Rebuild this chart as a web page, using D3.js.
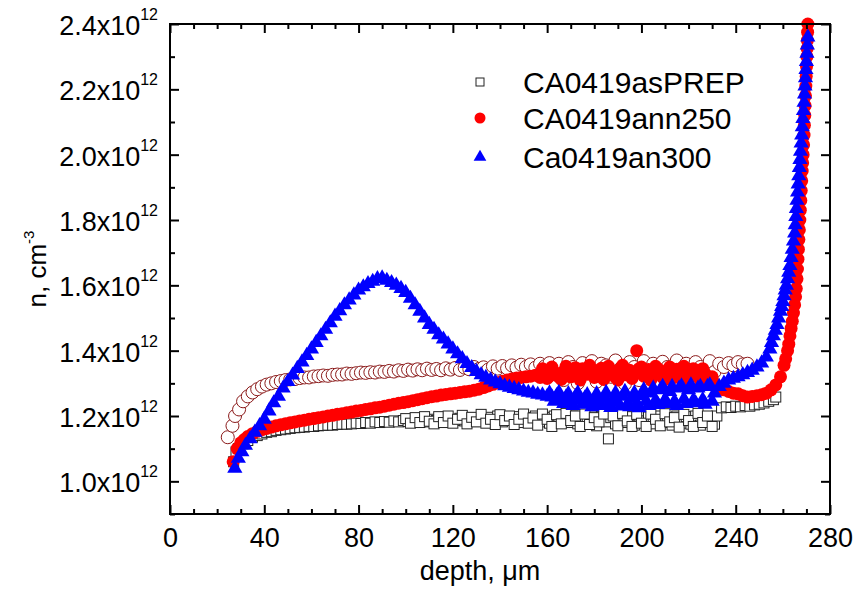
<!DOCTYPE html>
<html>
<head>
<meta charset="utf-8">
<script src="https://cdn.jsdelivr.net/npm/d3@7"></script>
<style>
body { margin: 0; background: white; }
text { font-family: Arial, "Liberation Sans", sans-serif; fill: black; }
</style>
</head>
<body>
<script>
// depth (um), n (x10^12 cm^-3)
var prepData = [[27,1.06],[28,1.09],[29,1.10],[31,1.115],[33,1.125],[35,1.135],[37,1.14],[39,1.145],[41,1.15],[43,1.152],[45,1.156],[47,1.158],[49,1.16],[51,1.162],[53,1.164],[55,1.165],[57,1.166],[59,1.168],[61,1.168],[63,1.17],[65,1.171],[67,1.172],[69,1.172],[71,1.174],[73,1.175],[75,1.175],[77,1.176],[79,1.178],[81,1.177],[83,1.18],[85,1.178],[87,1.182],[89,1.18],[91,1.183],[93,1.181],[95,1.185],[97,1.182],[99,1.186],[101,1.183],[103,1.188],[105,1.184],[107,1.19],[109,1.182],[111,1.19],[113,1.186],[115,1.192],[117,1.184],[119,1.19],[121,1.186],[123,1.193],[125,1.185],[127,1.195],[129,1.183],[131,1.19],[133,1.187],[135,1.196],[137,1.184],[139,1.2],[141,1.182],[143,1.192],[145,1.186],[147,1.198],[149,1.18],[151,1.195],[153,1.188],[155,1.2],[157,1.182],[159,1.196],[161,1.178],[163,1.2],[165,1.185],[167,1.195],[169,1.18],[171,1.2],[173,1.176],[175,1.196],[177,1.184],[179,1.2],[181,1.17],[183,1.198],[185,1.182],[186,1.13],[187,1.195],[189,1.176],[191,1.2],[193,1.18],[195,1.198],[197,1.172],[199,1.2],[201,1.185],[203,1.197],[205,1.176],[207,1.2],[209,1.18],[211,1.195],[213,1.172],[215,1.2],[217,1.178],[219,1.198],[221,1.175],[223,1.2],[225,1.172],[227,1.196],[229,1.182],[231,1.175],[232,1.2],[234,1.225],[236,1.228],[238,1.226],[240,1.23],[242,1.228],[244,1.232],[246,1.23],[248,1.234],[250,1.236],[252,1.24],[254,1.245],[256,1.25],[257,1.258],
  [100,1.192],[102,1.178],[104,1.195],[106,1.18],[108,1.198],[110,1.184],[112,1.176],[114,1.198],[116,1.18],[118,1.2],[120,1.178],[122,1.19],[124,1.202],[126,1.176],[128,1.196],[130,1.182],[132,1.205],[134,1.178],[136,1.19],[138,1.174],[140,1.204],[142,1.186],[144,1.2],[146,1.174],[148,1.19],[150,1.206],[152,1.178],[154,1.194],[156,1.172],[158,1.206],[160,1.19],[162,1.168],[164,1.204],[166,1.176],[168,1.208],[170,1.186],[172,1.2],[174,1.168],[176,1.206],[178,1.174],[180,1.195],[182,1.182],[184,1.206],[188,1.2],[190,1.17],[192,1.208],[194,1.185],[196,1.168],[198,1.205],[200,1.178],[202,1.168],[204,1.206],[206,1.19],[208,1.17],[210,1.207],[212,1.182],[214,1.195],[216,1.166],[218,1.205],[220,1.186],[222,1.168],[224,1.208],[226,1.18],[228,1.2],[230,1.168]];

var refData = [[24.5,1.135],[26.5,1.17],[27.6,1.2],[29.3,1.22],[31,1.245],[33,1.26],[35,1.272],[37,1.282],[39,1.29],[41,1.296],[43,1.3],[45,1.304],[47,1.307],[49,1.31],[51,1.312],[53,1.313],[55,1.316],[57,1.318],[59,1.318],[61,1.321],[63,1.322],[65,1.324],[67,1.323],[69,1.326],[71,1.327],[73,1.327],[75,1.33],[77,1.329],[79,1.331],[81,1.333],[83,1.332],[85,1.334],[87,1.333],[89,1.336],[91,1.335],[93,1.338],[95,1.336],[97,1.34],[99,1.338],[101,1.342],[103,1.339],[105,1.343],[107,1.34],[109,1.345],[111,1.341],[113,1.344],[115,1.34],[117,1.346],[119,1.342],[121,1.347],[123,1.341],[125,1.348],[127,1.343],[129,1.35],[131,1.344],[133,1.349],[135,1.342],[137,1.352],[139,1.345],[141,1.353],[143,1.346],[145,1.355],[147,1.348],[149,1.357],[151,1.35],[153,1.358],[155,1.348],[157,1.36],[159,1.352],[161,1.362],[163,1.33],[165,1.36],[167,1.31],[169,1.365],[171,1.35],[173,1.3],[175,1.362],[177,1.34],[179,1.368],[181,1.305],[183,1.36],[185,1.355],[187,1.32],[189,1.37],[191,1.345],[193,1.298],[195,1.365],[197,1.35],[199,1.31],[201,1.368],[203,1.34],[205,1.36],[207,1.3],[209,1.366],[211,1.35],[213,1.32],[215,1.37],[217,1.345],[219,1.36],[221,1.31],[223,1.365],[225,1.35],[227,1.3],[229,1.368],[231,1.335],[233,1.36],[235,1.35],[237,1.362],[239,1.355],[241,1.365],[243,1.358],[245,1.36]];

var ann250Data = [[26.8,1.06],[28.5,1.1],[30,1.118],[31.5,1.128],[33,1.137],[35,1.146],[37,1.153],[39,1.158],[41,1.162],[43,1.166],[45,1.17],[47,1.173],[49,1.176],[51,1.179],[53,1.182],[55,1.185],[57,1.187],[59,1.19],[61,1.192],[63,1.195],[65,1.197],[67,1.2],[69,1.202],[71,1.205],[73,1.207],[75,1.21],[77,1.212],[79,1.215],[81,1.217],[83,1.22],[85,1.222],[87,1.225],[89,1.227],[91,1.23],[93,1.233],[95,1.236],[97,1.239],[99,1.241],[101,1.244],[103,1.247],[105,1.25],[107,1.253],[109,1.256],[111,1.259],[113,1.261],[115,1.264],[117,1.266],[119,1.268],[121,1.27],[123,1.272],[125,1.274],[127,1.276],[129,1.279],[131,1.282],[133,1.287],[135,1.292],[137,1.297],[139,1.302],[141,1.306],[143,1.31],[145,1.313],[147,1.316],[149,1.318],[151,1.32],[153,1.322],[155,1.325],[157,1.318],[159,1.33],[161,1.322],[163,1.334],[165,1.32],[167,1.336],[169,1.326],[171,1.34],[173,1.322],[175,1.345],[177,1.328],[179,1.34],[181,1.322],[183,1.346],[185,1.33],[187,1.338],[189,1.318],[191,1.344],[193,1.326],[195,1.34],[197,1.33],[198,1.4],[199,1.345],[201,1.322],[203,1.342],[205,1.325],[207,1.345],[209,1.318],[211,1.34],[213,1.33],[215,1.343],[217,1.315],[219,1.338],[221,1.322],[223,1.336],[225,1.31],[227,1.33],[229,1.315],[231,1.3],[233,1.288],[235,1.28],[237,1.275],[239,1.27],[241,1.268],[243,1.262],[245,1.258],[247,1.26],[249,1.262],[251,1.265],[253,1.27],[255,1.28],[257,1.295],[259,1.32],[260.5,1.355],[262,1.4],[263,1.445],[264,1.49],[265,1.54],[265.7,1.59],[266.2,1.65],[266.6,1.71],[267,1.77],[267.4,1.83],[267.8,1.89],[268.2,1.95],[268.6,2.0],[269,2.06],[269.3,2.12],[269.6,2.18],[269.9,2.24],[270.2,2.3],[270.4,2.35],[270.6,2.4],
  [158,1.345],[160,1.315],[162,1.35],[164,1.33],[166,1.312],[168,1.352],[170,1.32],[172,1.348],[174,1.31],[176,1.336],[178,1.355],[180,1.318],[182,1.34],[184,1.312],[186,1.352],[188,1.33],[190,1.31],[192,1.355],[194,1.338],[196,1.315],[200,1.35],[202,1.33],[204,1.31],[206,1.352],[208,1.335],[210,1.312],[212,1.35],[214,1.318],[216,1.34],[218,1.352],[220,1.31],[222,1.345],[224,1.325],[226,1.345],[228,1.3],[230,1.32],
  [261.2,1.375],[262.5,1.42],[263.5,1.468],[264.5,1.515],[265.4,1.565],[266,1.62],[266.4,1.68],[266.8,1.74],[267.2,1.8],[267.6,1.86],[268,1.92],[268.4,1.975],[268.8,2.03],[269.15,2.09],[269.45,2.15],[269.75,2.21],[270.05,2.27],[270.3,2.325],[270.5,2.375]];

var an300Data = [[27.5,1.04],[29,1.07],[30.5,1.09],[32,1.11],[34,1.13],[36,1.15],[38,1.17],[40,1.19],[42,1.215],[44,1.24],[46,1.26],[48,1.285],[50,1.305],[52,1.325],[54,1.345],[56,1.365],[58,1.385],[60,1.405],[62,1.425],[64,1.445],[66,1.465],[68,1.485],[70,1.505],[72,1.522],[74,1.54],[76,1.555],[78,1.57],[80,1.585],[82,1.595],[84,1.605],[86,1.612],[88,1.62],[90,1.622],[92,1.615],[94,1.608],[96,1.6],[98,1.59],[100,1.578],[102,1.56],[104,1.54],[106,1.52],[108,1.5],[110,1.48],[112,1.465],[114,1.448],[116,1.435],[118,1.42],[120,1.405],[122,1.39],[124,1.375],[126,1.36],[128,1.348],[130,1.336],[132,1.326],[134,1.318],[136,1.31],[138,1.304],[140,1.298],[142,1.292],[144,1.288],[146,1.284],[148,1.28],[150,1.276],[152,1.272],[154,1.27],[156,1.266],[158,1.264],[160,1.26],[162,1.258],[164,1.262],[166,1.25],[168,1.258],[170,1.245],[172,1.26],[174,1.248],[176,1.255],[178,1.24],[180,1.252],[182,1.244],[184,1.256],[186,1.238],[188,1.25],[190,1.242],[192,1.26],[194,1.236],[196,1.255],[198,1.24],[200,1.262],[202,1.245],[204,1.27],[206,1.248],[208,1.28],[210,1.25],[212,1.275],[214,1.245],[216,1.285],[218,1.252],[220,1.28],[222,1.248],[224,1.285],[226,1.25],[228,1.29],[230,1.245],[231,1.27],[233,1.29],[235,1.3],[237,1.31],[239,1.315],[241,1.32],[243,1.326],[245,1.333],[247,1.34],[249,1.35],[251,1.362],[253,1.38],[254.5,1.405],[256,1.445],[257.5,1.48],[259,1.52],[260,1.55],[261,1.585],[262,1.62],[263,1.66],[264,1.71],[265,1.76],[265.5,1.81],[266,1.86],[266.5,1.91],[267,1.96],[267.5,2.01],[268,2.06],[268.5,2.11],[269,2.16],[269.4,2.21],[269.8,2.26],[270.2,2.31],[270.6,2.36],
  [161,1.27],[163,1.245],[165,1.272],[167,1.238],[169,1.268],[171,1.232],[173,1.27],[175,1.236],[177,1.265],[179,1.228],[181,1.268],[183,1.232],[185,1.272],[187,1.226],[189,1.27],[191,1.23],[193,1.275],[195,1.228],[197,1.27],[199,1.225],[201,1.28],[203,1.232],[205,1.285],[207,1.235],[209,1.29],[211,1.238],[213,1.29],[215,1.232],[217,1.292],[219,1.238],[221,1.295],[223,1.24],[225,1.29],[227,1.236],[229,1.295],
  [255.2,1.425],[256.8,1.462],[258.2,1.5],[259.5,1.535],[260.5,1.568],[261.5,1.6],[262.5,1.64],[263.5,1.685],[264.5,1.735],[265.25,1.785],[265.75,1.835],[266.25,1.885],[266.75,1.935],[267.25,1.985],[267.75,2.035],[268.25,2.085],[268.75,2.135],[269.2,2.185],[269.6,2.235],[270,2.285],[270.4,2.335]];

var legendNames = ["CA0419asPREP", "CA0419ann250", "Ca0419an300"];
var xTicks = [0, 40, 80, 120, 160, 200, 240, 280];
var xMinor = [10, 20, 30, 50, 60, 70, 90, 100, 110, 130, 140, 150, 170, 180, 190, 210, 220, 230, 250, 260, 270];
var yTicks = [1.0, 1.2, 1.4, 1.6, 1.8, 2.0, 2.2, 2.4];
var yMinor = [0.9, 1.1, 1.3, 1.5, 1.7, 1.9, 2.1, 2.3];

var plotLeft = 170, plotRight = 830, plotTop = 24, plotBottom = 514;

var x_scale = d3.scaleLinear().domain([0, 280]).range([plotLeft, plotRight]);
var y_scale = d3.scaleLinear().domain([0.9, 2.4]).range([plotBottom, plotTop]);

var svg = d3.select("body").append("svg")
    .attr("width", 857)
    .attr("height", 593)
    .style("background", "white");

// markers
svg.selectAll("rect.prep").data(prepData).enter().append("rect")
    .attr("class", "prep")
    .attr("x", function(d){ return x_scale(d[0]) - 5; })
    .attr("y", function(d){ return y_scale(d[1]) - 5; })
    .attr("width", 10)
    .attr("height", 10)
    .attr("fill", "white")
    .attr("stroke", "#222")
    .attr("stroke-width", 1);

svg.selectAll("circle.ref").data(refData).enter().append("circle")
    .attr("class", "ref")
    .attr("cx", function(d){ return x_scale(d[0]); })
    .attr("cy", function(d){ return y_scale(d[1]); })
    .attr("r", 6.5)
    .attr("fill", "white")
    .attr("stroke", "#8b1a1a")
    .attr("stroke-width", 1);

svg.selectAll("circle.ann").data(ann250Data).enter().append("circle")
    .attr("class", "ann")
    .attr("cx", function(d){ return x_scale(d[0]); })
    .attr("cy", function(d){ return y_scale(d[1]); })
    .attr("r", 6.5)
    .attr("fill", "#ff0000");

var tri = d3.symbol().type(d3.symbolTriangle).size(100);
svg.selectAll("path.an").data(an300Data).enter().append("path")
    .attr("class", "an")
    .attr("d", tri)
    .attr("transform", function(d){ return "translate(" + x_scale(d[0]) + "," + y_scale(d[1]) + ")"; })
    .attr("fill", "#0000ff");

// frame + ticks
function styleAxis(g){
    g.select(".domain").remove();
    g.selectAll("line").attr("stroke", "black").attr("stroke-width", 2);
}

svg.append("g").attr("transform", "translate(0," + plotBottom + ")")
    .call(d3.axisBottom(x_scale).tickValues(xTicks).tickSize(-9).tickPadding(14))
    .call(styleAxis)
    .selectAll("text").attr("font-size", 27).attr("font-family", "Arial, 'Liberation Sans', sans-serif").attr("fill", "black");
svg.append("g").attr("transform", "translate(0," + plotBottom + ")")
    .call(d3.axisBottom(x_scale).tickValues(xMinor).tickSize(-5).tickFormat(""))
    .call(styleAxis);
svg.append("g").attr("transform", "translate(0," + plotTop + ")")
    .call(d3.axisTop(x_scale).tickValues(xTicks).tickSize(-9).tickFormat(""))
    .call(styleAxis);
svg.append("g").attr("transform", "translate(0," + plotTop + ")")
    .call(d3.axisTop(x_scale).tickValues(xMinor).tickSize(-5).tickFormat(""))
    .call(styleAxis);

svg.append("g").attr("transform", "translate(" + plotLeft + ",0)")
    .call(d3.axisLeft(y_scale).tickValues(yTicks).tickSize(-9).tickFormat(""))
    .call(styleAxis);
svg.append("g").attr("transform", "translate(" + plotLeft + ",0)")
    .call(d3.axisLeft(y_scale).tickValues(yMinor).tickSize(-5).tickFormat(""))
    .call(styleAxis);
svg.append("g").attr("transform", "translate(" + plotRight + ",0)")
    .call(d3.axisRight(y_scale).tickValues(yTicks).tickSize(-9).tickFormat(""))
    .call(styleAxis);
svg.append("g").attr("transform", "translate(" + plotRight + ",0)")
    .call(d3.axisRight(y_scale).tickValues(yMinor).tickSize(-5).tickFormat(""))
    .call(styleAxis);

svg.append("rect")
    .attr("x", plotLeft).attr("y", plotTop)
    .attr("width", plotRight - plotLeft).attr("height", plotBottom - plotTop)
    .attr("fill", "none")
    .attr("stroke", "black")
    .attr("stroke-width", 2);

// y tick labels with superscript
var ylab = svg.selectAll("text.ylab").data(yTicks).enter().append("text")
    .attr("class", "ylab")
    .attr("x", 158)
    .attr("y", function(d){ return y_scale(d) + 11; })
    .attr("text-anchor", "end")
    .attr("font-size", 27);
ylab.append("tspan").text(function(d){ return d.toFixed(1) + "x10"; });
ylab.append("tspan").attr("dy", -15).attr("font-size", 16).text("12");

// axis titles
svg.append("text")
    .attr("x", 480)
    .attr("y", 580)
    .attr("text-anchor", "middle")
    .attr("font-size", 27)
    .text("depth, \u03bcm");

var ytitle = svg.append("text")
    .attr("transform", "translate(46," + ((plotTop + plotBottom) / 2) + ") rotate(-90)")
    .attr("text-anchor", "middle")
    .attr("font-size", 26);
ytitle.append("tspan").text("n, cm");
ytitle.append("tspan").attr("dy", -12).attr("font-size", 15).text("-3");

// legend
var legendY = [82, 118, 157];
svg.append("rect")
    .attr("x", 476).attr("y", legendY[0] - 4)
    .attr("width", 8).attr("height", 8)
    .attr("fill", "white").attr("stroke", "#222").attr("stroke-width", 1);
svg.append("circle")
    .attr("cx", 480).attr("cy", legendY[1]).attr("r", 5.5)
    .attr("fill", "#ff0000");
svg.append("path")
    .attr("d", d3.symbol().type(d3.symbolTriangle).size(70))
    .attr("transform", "translate(480," + legendY[2] + ")")
    .attr("fill", "#0000ff");
svg.selectAll("text.leg").data(legendNames).enter().append("text")
    .attr("class", "leg")
    .attr("x", 523)
    .attr("y", function(d, i){ return legendY[i] + 11; })
    .attr("font-size", 30)
    .text(function(d){ return d; });
</script>
</body>
</html>
